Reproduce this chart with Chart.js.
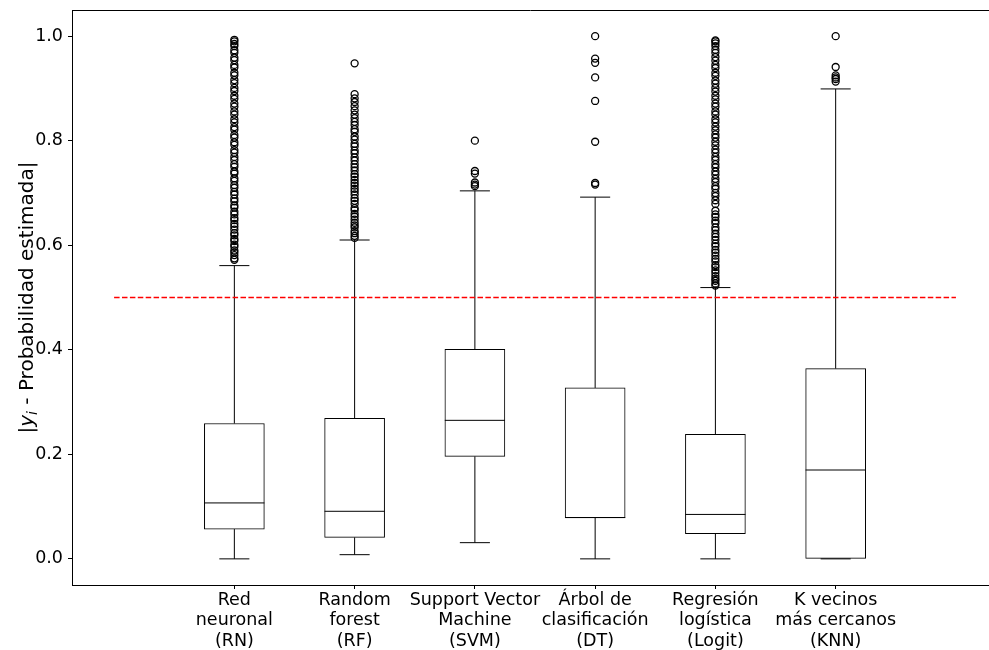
<!DOCTYPE html>
<html>
<head>
<meta charset="utf-8">
<script src="https://cdn.jsdelivr.net/npm/chart.js@4"></script>
<style>
  html, body { margin: 0; padding: 0; background: #fff; overflow: hidden; }
</style>
</head>
<body>
<canvas id="myChart" width="989" height="650"></canvas>
<script>
var labels = [
    ['Red', 'neuronal', '(RN)'],
    ['Random', 'forest', '(RF)'],
    ['Support Vector', 'Machine', '(SVM)'],
    ['Árbol de', 'clasificación', '(DT)'],
    ['Regresión', 'logística', '(Logit)'],
    ['K vecinos', 'más cercanos', '(KNN)']
]
var positions = [1, 2, 3, 4, 5, 6]

// box statistics per model
var whiskerLow  = [0.000, 0.008, 0.031, 0.000, 0.000, 0.000]
var q1          = [0.057, 0.041, 0.196, 0.079, 0.048, 0.000]
var median      = [0.107, 0.091, 0.265, 0.079, 0.085, 0.170]
var q3          = [0.259, 0.269, 0.401, 0.327, 0.238, 0.364]
var whiskerHigh = [0.561, 0.610, 0.704, 0.692, 0.519, 0.899]

var outliersRN = [0.572, 0.575, 0.581, 0.586, 0.590, 0.597, 0.601, 0.608, 0.612, 0.619, 0.623, 0.630, 0.636, 0.641, 0.648, 0.652, 0.659, 0.664, 0.672, 0.676, 0.684, 0.689, 0.697, 0.702, 0.710, 0.715, 0.723, 0.728, 0.737, 0.741, 0.750, 0.755, 0.763, 0.769, 0.777, 0.782, 0.792, 0.797, 0.806, 0.811, 0.821, 0.826, 0.835, 0.841, 0.850, 0.856, 0.865, 0.871, 0.880, 0.886, 0.895, 0.901, 0.910, 0.916, 0.925, 0.930, 0.940, 0.945, 0.954, 0.959, 0.968, 0.973, 0.981, 0.985, 0.990, 0.993]
var outliersRF = [0.614, 0.618, 0.623, 0.627, 0.634, 0.638, 0.643, 0.649, 0.655, 0.660, 0.667, 0.671, 0.679, 0.685, 0.690, 0.697, 0.703, 0.708, 0.714, 0.719, 0.725, 0.731, 0.736, 0.743, 0.749, 0.755, 0.762, 0.768, 0.776, 0.781, 0.789, 0.794, 0.802, 0.808, 0.817, 0.822, 0.830, 0.836, 0.843, 0.850, 0.858, 0.866, 0.874, 0.881, 0.889, 0.948]
var outliersSVM = [0.713, 0.716, 0.720, 0.737, 0.742, 0.800]
var outliersDT = [0.716, 0.719, 0.798, 0.876, 0.921, 0.949, 0.957, 1.000]
var outliersLogit = [0.523, 0.527, 0.532, 0.536, 0.541, 0.547, 0.552, 0.558, 0.562, 0.569, 0.574, 0.580, 0.586, 0.591, 0.598, 0.603, 0.610, 0.616, 0.622, 0.629, 0.634, 0.642, 0.647, 0.654, 0.659, 0.666, 0.679, 0.686, 0.694, 0.700, 0.708, 0.713, 0.721, 0.727, 0.735, 0.741, 0.749, 0.755, 0.763, 0.769, 0.777, 0.783, 0.791, 0.798, 0.806, 0.812, 0.820, 0.827, 0.835, 0.841, 0.850, 0.856, 0.865, 0.871, 0.879, 0.886, 0.894, 0.901, 0.909, 0.915, 0.924, 0.930, 0.939, 0.945, 0.953, 0.960, 0.968, 0.974, 0.981, 0.986, 0.990, 0.992]
var outliersKNN = [0.913, 0.918, 0.921, 0.925, 0.941, 1.000]
var outliers = [outliersRN, outliersRF, outliersSVM, outliersDT, outliersLogit, outliersKNN]

var threshold = 0.5
var thresholdSpan = [0, 7]
var yTicks = [0.0, 0.2, 0.4, 0.6, 0.8, 1.0]

var FONT = 'DejaVu Sans'
var boxHalf = 0.25
var capHalf = 0.125

// build point lists for the box plot pieces
var boxData = []
var whiskerData = []
var medianData = []
var outlierData = []
positions.forEach(function(p, i){
    boxData.push({x: p, y: [q1[i], q3[i]]})
    whiskerData.push({x: p, y: whiskerLow[i]}, {x: p, y: q1[i]}, {x: p, y: null})
    whiskerData.push({x: p, y: q3[i]}, {x: p, y: whiskerHigh[i]}, {x: p, y: null})
    whiskerData.push({x: p - capHalf, y: whiskerLow[i]}, {x: p + capHalf, y: whiskerLow[i]}, {x: p, y: null})
    whiskerData.push({x: p - capHalf, y: whiskerHigh[i]}, {x: p + capHalf, y: whiskerHigh[i]}, {x: p, y: null})
    medianData.push({x: p - boxHalf, y: median[i]}, {x: p + boxHalf, y: median[i]}, {x: p, y: null})
    outliers[i].forEach(function(v){ outlierData.push({x: p, y: v}) })
})

var frame = {
    id: 'frame',
    afterDraw: function(chart){
        var ctx = chart.ctx
        var a = chart.chartArea
        ctx.save()
        ctx.strokeStyle = '#000'
        ctx.lineWidth = 1
        ctx.beginPath()
        ctx.moveTo(a.left, a.top + 0.5)
        ctx.lineTo(a.right, a.top + 0.5)
        ctx.stroke()

        // y axis title: |y_i - Probabilidad estimada|
        var size = 20
        var parts = [
            {t: '|', f: size + 'px "' + FONT + '"', dy: 0},
            {t: 'y', f: 'italic ' + size + 'px "' + FONT + '"', dy: 0},
            {t: 'i', f: 'italic ' + Math.round(size * 0.7) + 'px "' + FONT + '"', dy: size * 0.22},
            {t: ' - Probabilidad estimada|', f: size + 'px "' + FONT + '"', dy: 0}
        ]
        var total = 0
        parts.forEach(function(p){ ctx.font = p.f; p.w = ctx.measureText(p.t).width; total += p.w })
        ctx.translate(33, (a.top + a.bottom) / 2)
        ctx.rotate(-Math.PI / 2)
        ctx.fillStyle = '#000'
        ctx.textBaseline = 'alphabetic'
        var x = -total / 2
        parts.forEach(function(p){
            ctx.font = p.f
            ctx.fillText(p.t, x, p.dy)
            x += p.w
        })
        ctx.restore()
    }
}

var ctx = document.getElementById('myChart').getContext('2d')
var chart = new Chart(ctx, {
    type: 'bar',
    data: {
        datasets: [
        {
            type: 'line',
            data: [{x: thresholdSpan[0], y: threshold}, {x: thresholdSpan[1], y: threshold}],
            borderColor: '#ff0000',
            borderWidth: 1.4,
            borderDash: [5.5, 2.4],
            pointRadius: 0,
            order: 0
        },
        {
            type: 'scatter',
            data: outlierData,
            pointStyle: 'circle',
            pointRadius: 3.5,
            borderWidth: 1.3,
            borderColor: '#000',
            backgroundColor: 'rgba(0,0,0,0)',
            order: 1
        },
        {
            type: 'line',
            data: medianData,
            borderColor: '#000',
            borderWidth: 1,
            pointRadius: 0,
            spanGaps: false,
            order: 2
        },
        {
            type: 'line',
            data: whiskerData,
            borderColor: '#000',
            borderWidth: 1,
            pointRadius: 0,
            spanGaps: false,
            order: 3
        },
        {
            type: 'bar',
            data: boxData,
            backgroundColor: '#fff',
            borderColor: '#000',
            borderWidth: 1,
            borderSkipped: false,
            barThickness: 60,
            order: 4
        }]
    },
    options: {
        responsive: false,
        animation: false,
        devicePixelRatio: 1,
        layout: { autoPadding: false, padding: { top: 10, right: 0, left: 0, bottom: 0 } },
        plugins: {
            legend: { display: false },
            tooltip: { enabled: false }
        },
        scales: {
            x: {
                type: 'linear',
                offset: false,
                min: -0.35,
                max: 7.275,
                afterFit: function(scale){ scale.height = 65 },
                afterBuildTicks: function(scale){
                    scale.ticks = positions.map(function(v){ return {value: v} })
                },
                ticks: {
                    autoSkip: false,
                    maxRotation: 0,
                    color: '#000',
                    padding: 1,
                    font: { family: FONT, size: 17.5, lineHeight: 1.17 },
                    callback: function(v){ return labels[v - 1] }
                },
                grid: {
                    offset: false,
                    drawOnChartArea: false,
                    drawTicks: true,
                    tickLength: 4,
                    color: '#000'
                },
                border: { display: true, color: '#000', width: 1 }
            },
            y: {
                min: -0.05,
                max: 1.05,
                afterFit: function(scale){
                    scale.width = 72
                    scale.paddingTop = 0
                    scale.paddingBottom = 0
                },
                afterBuildTicks: function(scale){
                    scale.ticks = yTicks.map(function(v){ return {value: v} })
                },
                ticks: {
                    color: '#000',
                    padding: 5,
                    font: { family: FONT, size: 17.5 },
                    callback: function(v){ return v.toFixed(1) }
                },
                grid: {
                    drawOnChartArea: false,
                    drawTicks: true,
                    tickLength: 4,
                    color: '#000'
                },
                border: { display: true, color: '#000', width: 1 }
            }
        }
    },
    plugins: [frame]
});
</script>
</body>
</html>
